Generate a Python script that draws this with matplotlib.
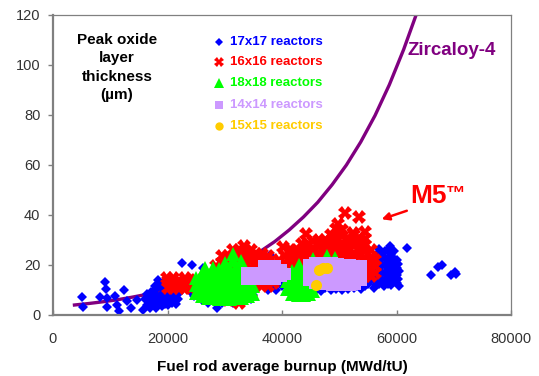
import matplotlib
matplotlib.use("Agg")
import matplotlib.pyplot as plt

plt.rcParams["font.family"] = ["Liberation Sans", "DejaVu Sans"]

# Zircaloy-4 trend curve
zry_burnup = [3750, 6250, 8750, 11250, 13750, 16250, 18750, 21250, 23750, 26250,
              28750, 31250, 33750, 36250, 38750, 41250, 43750, 46250, 48750,
              51250, 53750, 56250, 58750, 61250, 63500]
zry_oxide = [4.0, 4.6, 5.3, 6.1, 7.1, 8.2, 9.4, 10.9, 12.5, 14.4,
             16.7, 19.2, 22.1, 25.5, 29.4, 34.0, 39.2, 45.1, 52.1,
             60.0, 69.2, 79.8, 92.1, 106.2, 120.5]

# (burnup MWd/tU, peak oxide um), M5 rods per fuel assembly type
r17_points = [
    (5000, 7.1), (5200, 3.1), (8200, 7.3), (9100, 13.3), (9300, 10.4), (9400, 6.7),
    (9400, 3.1), (10800, 7.6), (11200, 4), (11600, 1.7), (12400, 10), (13000, 5.6),
    (13600, 2.7), (14600, 6), (15800, 2), (16400, 4),
    (16000, 6.5), (16500, 8.5), (17000, 3), (17000, 5.5), (17200, 9.3), (17500, 7),
    (18000, 3), (18000, 5.5), (18000, 8), (18000, 10.5), (18400, 14), (18500, 12),
    (19000, 3.5), (19000, 6), (19000, 8.5), (19000, 11), (19300, 13), (19500, 4.5),
    (20000, 4), (20000, 6.5), (20000, 9), (20200, 11.5), (20700, 5), (21000, 7),
    (21000, 9.5), (21500, 4.5), (21800, 6.5), (22000, 9),
    (17500, 4), (18500, 7), (18500, 4.5), (19500, 7.5), (19500, 10), (20500, 8),
    (20500, 10.5), (21300, 8), (16800, 7), (17800, 11.5), (19800, 12.5), (21000, 5.5),
    (22600, 21), (24300, 20), (26200, 19), (24000, 9.5), (24700, 7.5),
    (25500, 7.5), (26000, 6), (27000, 5), (27500, 7.5), (28000, 6), (28600, 3),
    (29500, 5), (30000, 7.5), (30500, 6), (31500, 5), (32000, 7), (32500, 5.5),
    (33500, 6), (34000, 8), (34500, 6.5), (35000, 8),
    (37900, 24), (37600, 10), (38500, 12), (39000, 10), (39500, 14), (40000, 11.5),
    (40500, 15), (41000, 12),
    (42500, 9.5), (44000, 10), (45000, 9), (46000, 10), (46800, 9.5), (47500, 11),
    (48500, 10), (49500, 10.5), (50500, 10), (51500, 10.5),
    (52500, 11), (53000, 12.5), (53800, 10.5), (54000, 14), (54500, 11.5), (55000, 16),
    (55000, 12.5), (55500, 19), (56000, 11), (56000, 14), (56000, 17), (56300, 21),
    (56500, 24), (57000, 12.5), (57000, 15.5), (57000, 18.5), (57000, 26.5), (57200, 22),
    (57800, 11.5), (58000, 14), (58000, 17), (58000, 20), (58000, 23), (58000, 25.5),
    (58900, 27.5), (59000, 12), (59000, 15), (59000, 18), (59000, 21), (59000, 24),
    (60000, 13), (60000, 16), (60000, 19), (60000, 22), (60500, 17.5), (61800, 27),
    (52500, 13.5), (53500, 14.5), (54500, 16), (55000, 21), (55500, 14), (56500, 12),
    (56500, 15.5), (56500, 19), (57500, 14), (57500, 17), (57500, 20), (57500, 24),
    (58500, 12.5), (58500, 15.5), (58500, 18.5), (58500, 21.5), (58500, 26),
    (59500, 13.5), (59500, 16.5), (59500, 19.5), (59500, 22.5), (59500, 25.5),
    (60300, 14.5), (60300, 20.5), (60500, 11.5),
    (66100, 16), (67300, 19.2), (67900, 20), (69600, 16), (70200, 17.3), (70400, 16.5),
]

r16_points = [
    (19900, 14.7), (20000, 11), (20000, 13.5), (21000, 11), (21000, 13.5), (21000, 15),
    (22000, 11), (22000, 13.5), (23000, 11), (23000, 13.5), (23000, 15),
    (24000, 11), (24000, 13.5), (25000, 11.5), (25000, 14), (26000, 13),
    (28500, 17), (28500, 19.5),
    (29500, 16), (29500, 18.5), (29500, 21), (29500, 23.5),
    (30500, 16), (30500, 18.5), (30500, 21), (30500, 23.5),
    (31500, 16), (31500, 18.5), (31500, 21), (31500, 23.5), (31500, 26),
    (32500, 16), (32500, 18.5), (32500, 21), (32500, 23.5), (32500, 26),
    (33500, 16), (33500, 18.5), (33500, 21), (33500, 23.5), (33500, 26), (33300, 27.5),
    (34500, 14), (34500, 16.5), (34500, 19), (34500, 21.5), (34500, 24), (34500, 26),
    (35500, 12), (35500, 14.5), (35500, 17), (35500, 19.5), (35500, 22), (35500, 24.5),
    (36500, 12), (36500, 14.5), (36500, 17), (36500, 19.5), (36500, 22), (36500, 24.5),
    (37500, 11.5), (37500, 14), (37500, 16.5), (37500, 19), (37500, 21.5), (37500, 23.5),
    (38500, 13), (38500, 15.5), (38500, 18), (38500, 20.5),
    (30500, 6), (31500, 7), (32500, 5), (33500, 7.5), (34500, 9),
    (40200, 27.2), (44200, 32.5), (49800, 36.4), (51000, 41), (53500, 39.3),
    (52400, 33), (54500, 33.2),
    (39500, 17), (39500, 19.5), (39500, 22),
    (40500, 16), (40500, 18.5), (40500, 21), (40500, 23.5),
    (41500, 16), (41500, 18.5), (41500, 21), (41500, 23.5), (41500, 26),
    (42500, 16), (42500, 18.5), (42500, 21), (42500, 23.5), (42500, 26),
    (43500, 16), (43500, 18.5), (43500, 21), (43500, 23.5), (43500, 26), (43500, 28.5),
    (44500, 16), (44500, 18.5), (44500, 21), (44500, 23.5), (44500, 26), (44500, 28.5),
    (45500, 22), (45500, 24.5), (45500, 27), (45500, 29.5),
    (46500, 22.5), (46500, 25), (46500, 27.5), (46500, 30),
    (47500, 22.5), (47500, 25), (47500, 27.5), (47500, 30),
    (48500, 22), (48500, 24.5), (48500, 27), (48500, 29.5), (48500, 32),
    (49500, 22), (49500, 24.5), (49500, 27), (49500, 29.5), (49500, 32), (49500, 34.5),
    (50500, 21.5), (50500, 24), (50500, 26.5), (50500, 29), (50500, 31.5), (50500, 34),
    (51500, 21), (51500, 23.5), (51500, 26), (51500, 28.5), (51500, 31),
    (52500, 20), (52500, 22.5), (52500, 25), (52500, 27.5), (52500, 30), (52500, 32),
    (53500, 16), (53500, 18.5), (53500, 21), (53500, 23.5), (53500, 26), (53500, 28.5),
    (53500, 31),
    (54500, 15.5), (54500, 18), (54500, 20.5), (54500, 23), (54500, 25.5), (54500, 28),
    (54500, 30.5),
    (55500, 15.5), (55500, 18), (55500, 20.5), (55500, 23), (55500, 26),
    (56200, 17), (56200, 19.5), (56200, 22),
    (45500, 17), (47000, 17), (48500, 17), (50500, 16), (51500, 17), (48700, 13.6),
    (52500, 15.5), (46500, 19.5), (49500, 19.5),
]

r18_points = [
    (25000, 9), (25000, 12), (25000, 15),
    (26000, 7.5), (26000, 10.5), (26000, 13.5), (26000, 16.5),
    (27000, 7), (27000, 10), (27000, 13), (27000, 16), (26600, 19),
    (28000, 7), (28000, 10), (28000, 13), (28000, 16), (28000, 19),
    (29000, 6.5), (29000, 9.5), (29000, 12.5), (29000, 15.5), (29000, 18.5),
    (30000, 6.5), (30000, 9.5), (30000, 12.5), (30000, 15.5), (30000, 18.5), (30000, 21),
    (31000, 6.5), (31000, 9.5), (31000, 12.5), (31000, 15.5), (31000, 18.5),
    (31500, 22), (31500, 24.5),
    (32000, 7), (32000, 10), (32000, 13), (32000, 16), (32000, 19),
    (33000, 7), (33000, 10), (33000, 13), (33000, 16), (33000, 19), (32800, 21.5),
    (34000, 7.5), (34000, 10.5), (34000, 13.5), (34000, 16.5),
    (35000, 8.5), (35000, 11.5),
    (40800, 10.5), (40800, 13.5), (40800, 16.5),
    (41800, 8.5), (41800, 11.5), (41800, 14.5), (41800, 17.5),
    (42800, 8), (42800, 11), (42800, 14), (42800, 17), (43000, 20),
    (43800, 8), (43800, 11), (43800, 14), (43800, 17),
    (44800, 8.5), (44800, 11.5), (44800, 14.5), (44800, 17.5),
    (45500, 9.5), (45500, 22.5), (47900, 23.5), (49200, 23),
]

r14_points = [
    (33800, 14.5), (33800, 17), (35000, 14.5), (35000, 17), (36200, 14.5), (36200, 17),
    (36800, 14.5), (36800, 17), (36800, 19.5), (37800, 14.5), (37800, 17), (37800, 19.5),
    (38800, 14.5), (38800, 17), (38800, 19.5), (39800, 15.5), (39800, 18), (40500, 16.5),
    (44800, 14), (44800, 17), (44800, 20),
    (45800, 13), (45800, 16), (45800, 19), (45800, 21),
    (46800, 12.5), (46800, 15.5), (46800, 18.5), (46800, 21),
    (47800, 12.5), (47800, 15.5), (47800, 18.5), (47800, 21),
    (48800, 12), (48800, 15), (48800, 18), (48800, 21),
    (49800, 12), (49800, 15), (49800, 18), (49800, 20.5),
    (50800, 12),
    (51800, 12), (51800, 15), (51800, 18), (51800, 20),
    (52800, 12.5), (52800, 15.5), (52800, 18.5),
    (53800, 14), (53800, 17), (53800, 19.5),
]

r15_points = [(46500, 18), (47800, 18.7), (47100, 19), (45900, 12)]

labels = ["17x17 reactors", "16x16 reactors", "18x18 reactors",
          "14x14 reactors", "15x15 reactors"]
x_ticks = [0, 20000, 40000, 60000, 80000]
y_ticks = [0, 20, 40, 60, 80, 100, 120]

# marker, plot size, legend size, colour
series = [
    (r17_points, "D", 5.2, 3.8, "#0000FF"),
    (r16_points, "X", 9.5, 6.5, "#FF0000"),
    (r18_points, "^", 9.8, 6.5, "#00FF00"),
    (r14_points, "s", 8.8, 5.5, "#CC99FF"),
    (r15_points, "o", 8.0, 6.0, "#FFCC00"),
]

fig = plt.figure(figsize=(5.39, 3.76), dpi=100)
ax = fig.add_axes([53 / 539, 1 - 315 / 376, 458 / 539, 300 / 376])

ax.plot(zry_burnup, zry_oxide, color="#800080", lw=2.4, zorder=1)

for pts, mk, ms, lms, col in series:
    xs = [p[0] for p in pts]
    ys = [p[1] for p in pts]
    ax.plot(xs, ys, linestyle="none", marker=mk, ms=ms, mfc=col, mec=col,
            mew=0, zorder=2)

ax.set_xlim(0, 80000)
ax.set_ylim(0, 120)
ax.set_xticks(x_ticks)
ax.set_yticks(y_ticks)
ax.tick_params(axis="x", direction="in", length=3.6, width=1, color="#808080",
               pad=12, labelsize=10.5, labelcolor="#333333")
ax.tick_params(axis="y", direction="out", length=3.6, width=1, color="#808080",
               pad=5.5, labelsize=10.5, labelcolor="#333333")
for side in ["left", "bottom"]:
    ax.spines[side].set_color("#808080")
    ax.spines[side].set_linewidth(1.6)
for side in ["top", "right"]:
    ax.spines[side].set_color("#808080")
    ax.spines[side].set_linewidth(0.9)

ax.set_xlabel("Fuel rod average burnup (MWd/tU)", fontsize=11, fontweight="bold",
              labelpad=10)

ax.text(0.1397, 0.825, "Peak oxide\nlayer\nthickness\n(\u00b5m)", transform=ax.transAxes,
        ha="center", va="center", multialignment="center", fontsize=11,
        fontweight="bold", linespacing=1.4)

# hand-made legend in the upper middle
row_y = [0.910, 0.843, 0.773, 0.700, 0.630]
for (pts, mk, ms, lms, col), lab, yy in zip(series, labels, row_y):
    ax.plot([0.362], [yy], transform=ax.transAxes, marker=mk, ms=lms,
            mfc=col, mec=col, mew=0, clip_on=False)
    ax.text(0.3865, yy, lab, transform=ax.transAxes, color=col, fontsize=9.5,
            fontweight="bold", ha="left", va="center")

ax.text(0.775, 0.8667, "Zircaloy-4", transform=ax.transAxes, color="#800080",
        fontsize=13.5, fontweight="bold", ha="left", va="baseline")
ax.text(0.7795, 0.3733, "M5", transform=ax.transAxes, color="#FF0000",
        fontsize=19, fontweight="bold", ha="left", va="baseline")
ax.text(0.857, 0.39, "\u2122", transform=ax.transAxes, color="#FF0000",
        fontsize=14, fontweight="bold", ha="left", va="baseline")
ax.annotate("", xy=(57400, 38.3), xytext=(61800, 41.7),
            arrowprops=dict(arrowstyle="-|>", color="#FF0000", lw=1.8,
                            mutation_scale=11, shrinkA=0, shrinkB=0))

fig.savefig("out.png", dpi=100)
